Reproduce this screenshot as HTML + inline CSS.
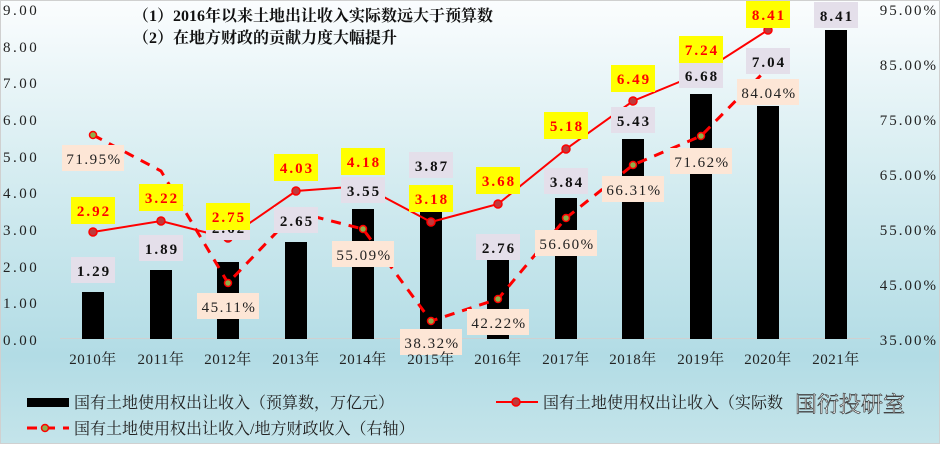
<!DOCTYPE html>
<html><head><meta charset="utf-8"><style>
html,body{margin:0;padding:0}
body{width:940px;height:444px;overflow:hidden}
svg text{font-family:"Liberation Serif","Noto Serif CJK SC",serif}
</style></head><body>
<svg width="940" height="444" xmlns="http://www.w3.org/2000/svg">
<defs>
<linearGradient id="bg" x1="0" y1="0" x2="0" y2="1">
<stop offset="0" stop-color="#fbfdfe"/>
<stop offset="0.35" stop-color="#d9eef2"/>
<stop offset="0.8" stop-color="#b2dce5"/>
<stop offset="1" stop-color="#c4e4ea"/>
</linearGradient>
</defs>
<rect x="0" y="0" width="940" height="444" fill="url(#bg)"/>
<rect x="0.5" y="0.5" width="939" height="443" fill="none" stroke="#d0d0d0"/>
<g font-size="15" fill="#222" text-anchor="start" letter-spacing="2.5">
<text x="3" y="15">9.00</text><text x="3" y="52">8.00</text><text x="3" y="88">7.00</text>
<text x="3" y="125">6.00</text><text x="3" y="162">5.00</text><text x="3" y="198">4.00</text>
<text x="3" y="235">3.00</text><text x="3" y="272">2.00</text><text x="3" y="308">1.00</text>
<text x="3" y="345">0.00</text>
</g>
<g font-size="15" fill="#222" text-anchor="end" letter-spacing="2">
<text x="938" y="15">95.00%</text><text x="938" y="70">85.00%</text><text x="938" y="125">75.00%</text>
<text x="938" y="180">65.00%</text><text x="938" y="235">55.00%</text><text x="938" y="290">45.00%</text>
<text x="938" y="345">35.00%</text>
</g>
<line x1="60" y1="338.5" x2="870" y2="338.5" stroke="#d0d0d0"/>
<g fill="#000">
<rect x="82" y="292" width="22" height="47"/>
<rect x="150" y="270" width="22" height="69"/>
<rect x="217" y="262" width="22" height="77"/>
<rect x="285" y="242" width="22" height="97"/>
<rect x="352" y="209" width="22" height="130"/>
<rect x="420" y="197" width="22" height="142"/>
<rect x="487" y="238" width="22" height="101"/>
<rect x="555" y="198" width="22" height="141"/>
<rect x="622" y="139" width="22" height="200"/>
<rect x="690" y="94" width="22" height="245"/>
<rect x="757" y="106" width="22" height="233"/>
<rect x="825" y="30" width="22" height="309"/>
</g>
<polyline fill="none" stroke="#f00" stroke-width="2" points="93,232 161,221 228,238 296,191 363,186 431,222 498,204 566,149 633,101 701,73 768,30"/>
<g fill="#c0393b" stroke="#f00" stroke-width="1.5">
<circle cx="93" cy="232" r="4"/><circle cx="161" cy="221" r="4"/><circle cx="228" cy="238" r="4"/>
<circle cx="296" cy="191" r="4"/><circle cx="363" cy="186" r="4"/><circle cx="431" cy="222" r="4"/>
<circle cx="498" cy="204" r="4"/><circle cx="566" cy="149" r="4"/><circle cx="633" cy="101" r="4"/>
<circle cx="701" cy="73" r="4"/><circle cx="768" cy="30" r="4"/>
</g>
<polyline fill="none" stroke="#f00" stroke-width="3" stroke-dasharray="10,8" points="93,135 161,171 228,283 296,212 363,229 431,321 498,299 566,218 633,165 701,136 768,68"/>
<g fill="#8fae4a" stroke="#f00" stroke-width="1.5">
<circle cx="93" cy="135" r="3.5"/><circle cx="228" cy="283" r="3.5"/><circle cx="296" cy="212" r="3.5"/>
<circle cx="363" cy="229" r="3.5"/><circle cx="431" cy="321" r="3.5"/><circle cx="498" cy="299" r="3.5"/>
<circle cx="566" cy="218" r="3.5"/><circle cx="633" cy="165" r="3.5"/><circle cx="701" cy="136" r="3.5"/>
</g>
<g font-size="15" text-anchor="middle" letter-spacing="2">
<g fill="#e4dfea">
<rect x="71" y="257" width="44" height="26"/><rect x="139" y="235" width="44" height="26"/>
<rect x="206" y="214" width="44" height="26"/><rect x="274" y="207" width="44" height="26"/>
<rect x="341" y="177" width="44" height="26"/><rect x="409" y="152" width="44" height="26"/>
<rect x="476" y="234" width="44" height="26"/><rect x="544" y="168" width="44" height="26"/>
<rect x="611" y="107" width="44" height="26"/><rect x="679" y="62" width="44" height="26"/>
<rect x="746" y="48" width="44" height="26"/><rect x="814" y="2" width="44" height="26"/>
</g>
<g fill="#111" font-weight="bold">
<text x="94" y="276">1.29</text><text x="162" y="254">1.89</text><text x="229" y="233">2.62</text>
<text x="297" y="226">2.65</text><text x="364" y="196">3.55</text><text x="432" y="171">3.87</text>
<text x="499" y="253">2.76</text><text x="567" y="187">3.84</text><text x="634" y="126">5.43</text>
<text x="702" y="81">6.68</text><text x="769" y="67">7.04</text><text x="837" y="21">8.41</text>
</g>
<g fill="#fde6d6">
<rect x="62" y="145" width="62" height="26"/><rect x="197" y="293" width="62" height="26"/>
<rect x="332" y="241" width="62" height="26"/><rect x="400" y="329" width="62" height="26"/>
<rect x="467" y="309" width="62" height="26"/><rect x="535" y="230" width="62" height="26"/>
<rect x="602" y="176" width="62" height="26"/><rect x="670" y="148" width="62" height="26"/>
<rect x="737" y="79" width="62" height="26"/>
</g>
<g fill="#222" letter-spacing="1.5">
<text x="94" y="164">71.95%</text><text x="229" y="312">45.11%</text><text x="364" y="260">55.09%</text>
<text x="432" y="348">38.32%</text><text x="499" y="328">42.22%</text><text x="567" y="249">56.60%</text>
<text x="634" y="195">66.31%</text><text x="702" y="167">71.62%</text><text x="769" y="98">84.04%</text>
</g>
<g fill="#ffff00">
<rect x="71" y="197" width="44" height="27"/><rect x="139" y="184" width="44" height="27"/>
<rect x="206" y="203" width="44" height="27"/><rect x="274" y="154" width="44" height="27"/>
<rect x="341" y="148" width="44" height="27"/><rect x="409" y="185" width="44" height="27"/>
<rect x="476" y="167" width="44" height="27"/><rect x="544" y="112" width="44" height="27"/>
<rect x="611" y="65" width="44" height="27"/><rect x="679" y="36" width="44" height="27"/>
<rect x="746" y="1" width="44" height="27"/>
</g>
<g fill="#f00" font-weight="bold">
<text x="94" y="216">2.92</text><text x="162" y="203">3.22</text><text x="229" y="222">2.75</text>
<text x="297" y="173">4.03</text><text x="364" y="167">4.18</text><text x="432" y="204">3.18</text>
<text x="499" y="186">3.68</text><text x="567" y="131">5.18</text><text x="634" y="84">6.49</text>
<text x="702" y="55">7.24</text><text x="769" y="20">8.41</text>
</g>
</g>
<g font-size="15" fill="#222" text-anchor="middle" letter-spacing="0.5">
<text x="93" y="364">2010年</text><text x="161" y="364">2011年</text><text x="228" y="364">2012年</text>
<text x="296" y="364">2013年</text><text x="363" y="364">2014年</text><text x="431" y="364">2015年</text>
<text x="498" y="364">2016年</text><text x="566" y="364">2017年</text><text x="633" y="364">2018年</text>
<text x="701" y="364">2019年</text><text x="768" y="364">2020年</text><text x="836" y="364">2021年</text>
</g>
<g font-size="16" font-weight="bold" fill="#111">
<text x="133" y="21">（1）2016年以来土地出让收入实际数远大于预算数</text>
<text x="133" y="43">（2）在地方财政的贡献力度大幅提升</text>
</g>
<rect x="27" y="398" width="42" height="9" fill="#000"/>
<text x="74" y="408" font-size="16" fill="#222">国有土地使用权出让收入（预算数，万亿元）</text>
<line x1="496" y1="402" x2="538" y2="402" stroke="#f00" stroke-width="2"/>
<circle cx="516" cy="402" r="4" fill="#c0393b" stroke="#f00" stroke-width="1.5"/>
<text x="543" y="408" font-size="16" fill="#222">国有土地使用权出让收入（实际数</text>
<text x="795" y="412" font-size="22" fill="#fff" stroke="#444" stroke-width="0.7">国衍投研室</text>
<line x1="27" y1="428" x2="69" y2="428" stroke="#f00" stroke-width="3" stroke-dasharray="10,8"/>
<circle cx="45" cy="428" r="3.5" fill="#8fae4a" stroke="#f00" stroke-width="1.5"/>
<text x="74" y="434" font-size="16" fill="#222">国有土地使用权出让收入/地方财政收入（右轴）</text>
</svg>
</body></html>
